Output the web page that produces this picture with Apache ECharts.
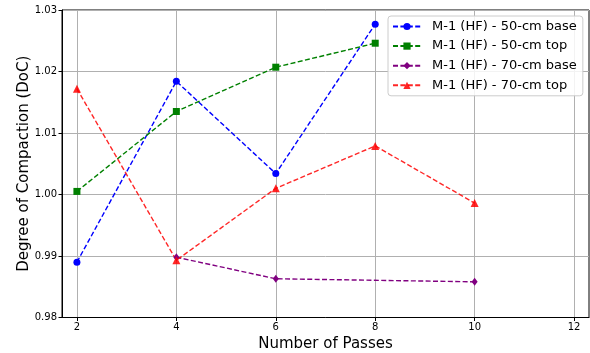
<!DOCTYPE html>
<html>
<head>
<meta charset="utf-8">
<script src="https://cdn.jsdelivr.net/npm/echarts@6/dist/echarts.min.js"></script>
<style>
  html, body { margin: 0; padding: 0; background: #ffffff; }
  #chart { width: 590px; height: 353px; }
</style>
</head>
<body>
<div id="chart"></div>
<script>
// Degree of compaction per number of roller passes
const xTicks = [2, 4, 6, 8, 10, 12];
const yTicks = [0.98, 0.99, 1.00, 1.01, 1.02, 1.03];

const base50Passes = [2, 4, 6, 8];
const base50Values = [0.9890, 1.0184, 1.0034, 1.0277];

const top50Passes = [2, 4, 6, 8];
const top50Values = [1.0005, 1.0135, 1.0207, 1.0246];

const base70Passes = [4, 6, 10];
const base70Values = [0.9898, 0.9863, 0.9858];

const top70Passes = [2, 4, 6, 8, 10];
const top70Values = [1.0172, 0.9893, 1.0010, 1.0079, 0.9986];

const seriesNames = [
  'M-1 (HF) - 50-cm base',
  'M-1 (HF) - 50-cm top',
  'M-1 (HF) - 70-cm base',
  'M-1 (HF) - 70-cm top'
];

function pairs(xs, ys) {
  return xs.map((x, i) => [x, ys[i]]);
}

const font = 'DejaVu Sans';
const dash = [5, 2.4];

function lineSeries(name, data, color, symbol, size, opacity) {
  return {
    name: name,
    type: 'line',
    data: data,
    symbol: symbol,
    symbolSize: size,
    showSymbol: true,
    animation: false,
    lineStyle: { color: color, width: 1.4, type: dash, opacity: opacity },
    itemStyle: { color: color, opacity: opacity }
  };
}

const chart = echarts.init(document.getElementById('chart'), null, { renderer: 'canvas' });

chart.setOption({
  backgroundColor: '#ffffff',
  animation: false,
  grid: {
    left: 62, right: 1, top: 10, bottom: 35.5,
    outerBoundsMode: 'none',
    show: true, borderColor: '#000000', borderWidth: 1
  },
  xAxis: {
    type: 'value',
    min: 1.7,
    max: 12.3,
    name: 'Number of Passes',
    nameLocation: 'middle',
    nameGap: 19,
    nameMoveOverlap: false,
    nameTextStyle: { fontFamily: font, fontSize: 15, color: '#000' },
    axisLine: { show: true, lineStyle: { color: '#000', width: 1 } },
    axisTick: { show: true, length: 3.5, customValues: xTicks, lineStyle: { color: '#000' } },
    axisLabel: { customValues: xTicks, fontFamily: font, fontSize: 10, color: '#000', margin: 5 },
    splitLine: { show: true, lineStyle: { color: '#b0b0b0', width: 1 } }
  },
  yAxis: {
    type: 'value',
    min: 0.98,
    max: 1.03,
    interval: 0.01,
    name: 'Degree of Compaction (DoC)',
    nameLocation: 'middle',
    nameGap: 30,
    nameMoveOverlap: false,
    nameTextStyle: { fontFamily: font, fontSize: 15, color: '#000' },
    axisLine: { show: true, lineStyle: { color: '#000', width: 1 } },
    axisTick: { show: true, length: 3.5, lineStyle: { color: '#000' } },
    axisLabel: {
      fontFamily: font, fontSize: 10, color: '#000', margin: 5,
      formatter: v => v.toFixed(2)
    },
    splitLine: { show: true, lineStyle: { color: '#b0b0b0', width: 1 } }
  },
  legend: {
    left: 388,
    top: 16,
    orient: 'vertical',
    backgroundColor: 'rgba(255,255,255,0.85)',
    borderColor: '#cccccc',
    borderWidth: 1,
    borderRadius: 3,
    padding: [4, 6, 4, 4],
    itemWidth: 28,
    itemHeight: 9,
    itemGap: 6.6,
    textStyle: { fontFamily: font, fontSize: 13, color: '#000', lineHeight: 13, padding: [0, 0, 0, 6] },
    data: seriesNames
  },
  series: [
    lineSeries(seriesNames[0], pairs(base50Passes, base50Values), '#0000ff', 'circle', 7, 1),
    lineSeries(seriesNames[1], pairs(top50Passes, top50Values), '#008000', 'rect', 7, 1),
    lineSeries(seriesNames[2], pairs(base70Passes, base70Values), '#800080', 'diamond', [6, 8], 1),
    lineSeries(seriesNames[3], pairs(top70Passes, top70Values), '#ff0000', 'triangle', 8, 0.85)
  ]
});
</script>
</body>
</html>
